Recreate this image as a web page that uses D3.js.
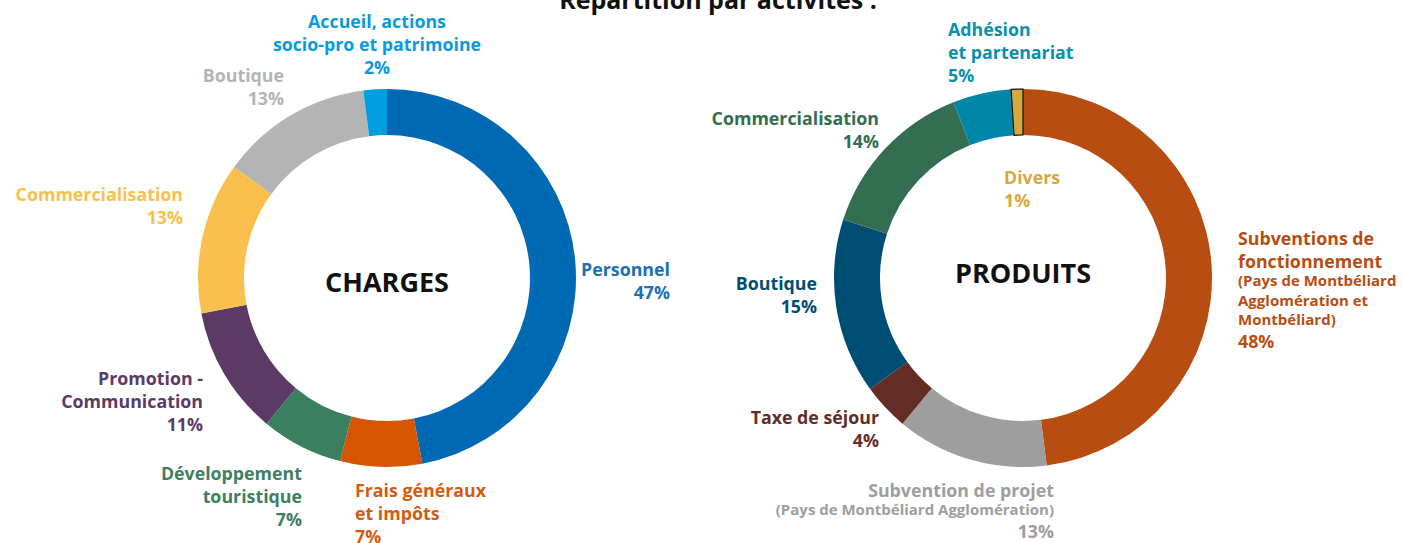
<!DOCTYPE html>
<html>
<head>
<meta charset="utf-8">
<script src="https://cdn.jsdelivr.net/npm/d3@7"></script>
<style>
  body { margin: 0; background: #fff; }
  svg text { font-family: "Open Sans", sans-serif; font-weight: 700; }
</style>
</head>
<body>
<svg id="chart"></svg>
<script>
// Charges (clockwise from 12 o'clock)
const chargeNames = [
  "Personnel",
  "Frais généraux|et impôts",
  "Développement|touristique",
  "Promotion -|Communication",
  "Commercialisation",
  "Boutique",
  "Accueil, actions|socio-pro et patrimoine",
];
const chargeNotes = ["", "", "", "", "", "", ""];
const chargeValues = [47, 7, 7, 11, 13, 13, 2];
const chargeColors = ["#0069b4", "#d55500", "#3a8060", "#5c3a66", "#f9c04e", "#b4b4b4", "#009ee0"];
const chargeTextColors = ["#1a6fb5", "#d35c10", "#3d8062", "#5c3a66", "#f9c04e", "#b4b4b4", "#0a9ade"];

// Produits (clockwise from 12 o'clock)
const produitNames = [
  "Subventions de|fonctionnement",
  "Subvention de projet",
  "Taxe de séjour",
  "Boutique",
  "Commercialisation",
  "Adhésion|et partenariat",
  "Divers",
];
const produitNotes = [
  "(Pays de Montbéliard|Agglomération et|Montbéliard)",
  "(Pays de Montbéliard Agglomération)",
  "", "", "", "", "",
];
const produitValues = [48, 13, 4, 15, 14, 5, 1];
const produitColors = ["#b84d12", "#9e9e9e", "#632d26", "#004d73", "#336e51", "#0087a8", "#d6a840"];
const produitTextColors = ["#b84d12", "#9e9e9e", "#632d26", "#004d73", "#336e51", "#0a8fae", "#d6a840"];

const width = 1403, height = 543;
const outerR = 189, innerR = 143;

const svg = d3.select("#chart").attr("width", width).attr("height", height);

svg.append("text")
  .attr("x", 718)
  .attr("y", 9)
  .attr("text-anchor", "middle")
  .style("font-size", "25px")
  .style("fill", "#111")
  .text("Répartition par activités :");

// label placement relative to donut centre: first line centre + anchor
const chargeLayout = [
  { dx: 283, dy: -9, anchor: "end" },
  { dx: -32, dy: 212, anchor: "start" },
  { dx: -85, dy: 195, anchor: "end" },
  { dx: -184, dy: 100, anchor: "end" },
  { dx: -204, dy: -84, anchor: "end" },
  { dx: -103, dy: -203, anchor: "end" },
  { dx: -10, dy: -257, anchor: "middle" },
];
const produitLayout = [
  { dx: 215, dy: -40, anchor: "start" },
  { dx: 31, dy: 212, anchor: "end" },
  { dx: -144, dy: 139, anchor: "end" },
  { dx: -206, dy: 5, anchor: "end" },
  { dx: -144, dy: -160, anchor: "end" },
  { dx: -75, dy: -249, anchor: "start" },
  { dx: -19, dy: -101, anchor: "start" },
];

function drawDonut(cx, cy, title, titleDy, names, notes, values, colors, textColors, layout, outlined) {
  const g = svg.append("g").attr("transform", `translate(${cx},${cy})`);

  const data = values.map((v, i) => ({ name: names[i], note: notes[i], value: v, i: i }));

  const pie = d3.pie().value((d) => d.value).sort(null);
  const arc = d3.arc().innerRadius(innerR).outerRadius(outerR);
  const arcs = pie(data);

  g.selectAll("path")
    .data(arcs)
    .join("path")
    .attr("d", arc)
    .attr("fill", (d) => colors[d.data.i])
    .attr("stroke", (d) => (d.data.i === outlined ? "#111" : "none"))
    .attr("stroke-width", 1.2);

  g.append("text")
    .attr("x", 0)
    .attr("y", titleDy)
    .attr("text-anchor", "middle")
    .attr("dominant-baseline", "central")
    .style("font-size", "27px")
    .style("fill", "#111")
    .text(title);

  // labels
  data.forEach((d) => {
    const l = layout[d.i];
    const t = g.append("text")
      .attr("text-anchor", l.anchor)
      .attr("dominant-baseline", "central")
      .style("fill", textColors[d.i]);
    let y = l.dy;
    d.name.split("|").forEach((line, k) => {
      if (k > 0) y += 23;
      t.append("tspan").attr("x", l.dx).attr("y", y).style("font-size", "17.8px").text(line);
    });
    if (d.note) {
      d.note.split("|").forEach((line, k) => {
        y += k === 0 ? 19 : 19.5;
        t.append("tspan").attr("x", l.dx).attr("y", y).style("font-size", "15px").text(line);
      });
    }
    y += d.note ? 22 : 23;
    t.append("tspan").attr("x", l.dx).attr("y", y).style("font-size", "17.8px").text(d.value + "%");
  });
}

drawDonut(387, 278, "CHARGES", 3, chargeNames, chargeNotes, chargeValues, chargeColors, chargeTextColors, chargeLayout, -1);
drawDonut(1023, 278, "PRODUITS", -6, produitNames, produitNotes, produitValues, produitColors, produitTextColors, produitLayout, 6);
</script>
</body>
</html>
